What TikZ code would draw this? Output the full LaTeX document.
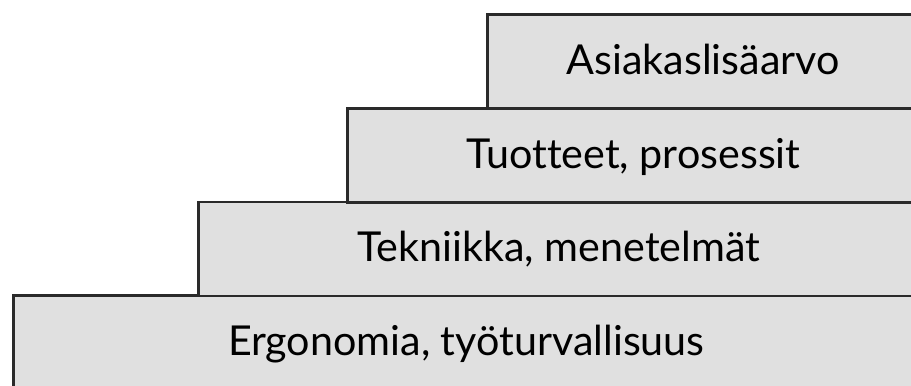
\documentclass[tikz,border=0pt]{standalone}
\usepackage{fontspec}
\setmainfont{Lato}[Ligatures=NoCommon]
\definecolor{stepfill}{HTML}{E0E0E0}
\definecolor{stepline}{HTML}{2A2A2A}
\tikzset{
  stair/.style={draw=stepline, fill=stepfill, line width=2.6bp,
    anchor=north west, minimum height=94bp, inner sep=0pt,
    text height=26bp, text depth=0pt, font=\fontsize{41.4}{41.4}\selectfont}
}
\begin{document}
\begin{tikzpicture}[x=1bp,y=-1bp]
  \useasboundingbox (0,0) rectangle (911,385);
  \clip (0,0) rectangle (911,385);
  % each step runs past the right edge of the picture
  \node[stair, minimum width=918bp-12bp] (ergo) at (12,294) {Ergonomia, työturvallisuus};
  \node[stair, minimum width=918bp-197bp] (tekn) at (197,200.5) {Tekniikka, menetelmät};
  \node[stair, minimum width=918bp-346bp] (tuot) at (346,107) {Tuotteet, prosessit};
  \node[stair, minimum width=918bp-486bp] (asia) at (486,13) {Asiakaslisäarvo};
\end{tikzpicture}
\end{document}
